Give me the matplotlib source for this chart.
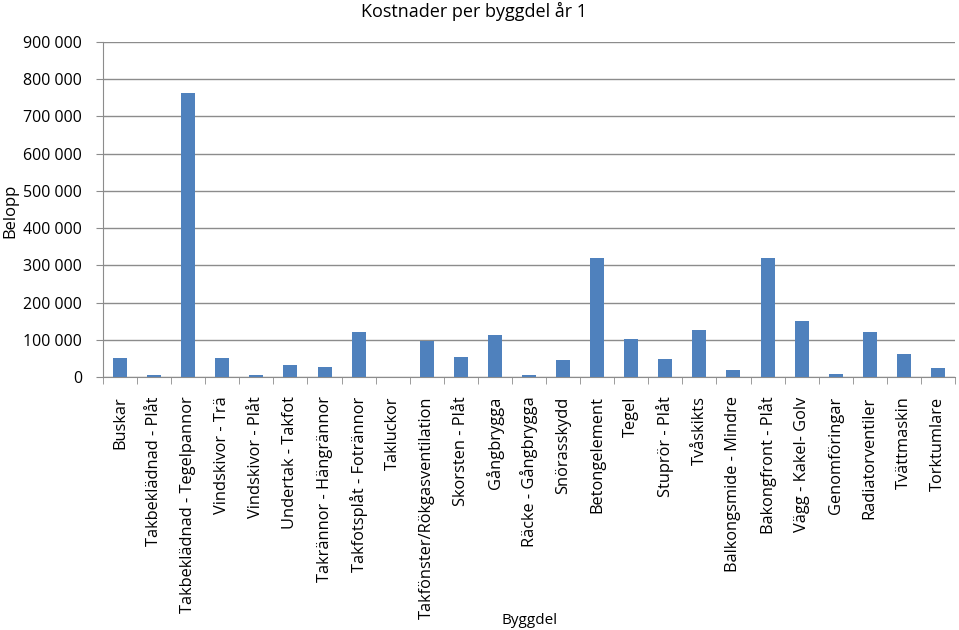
import matplotlib.pyplot as plt
import numpy as np
from matplotlib.ticker import FuncFormatter

plt.rcParams['font.family'] = ['Open Sans', 'DejaVu Sans']

byggdelar = ["Buskar", "Takbeklädnad - Plåt", "Takbeklädnad - Tegelpannor",
             "Vindskivor - Trä", "Vindskivor - Plåt", "Undertak - Takfot",
             "Takrännor - Hängrännor", "Takfotsplåt - Fotrännor", "Takluckor",
             "Takfönster/Rökgasventilation", "Skorsten - Plåt", "Gångbrygga",
             "Räcke - Gångbrygga", "Snörasskydd", "Betongelement", "Tegel",
             "Stuprör - Plåt", "Tvåskikts", "Balkongsmide - Mindre",
             "Bakongfront - Plåt", "Vägg - Kakel- Golv", "Genomföringar",
             "Radiatorventiler", "Tvättmaskin", "Torktumlare"]
belopp = [50000, 5000, 763000, 50000, 5000, 32000, 28000, 120000, 1000,
          97000, 55000, 112000, 5000, 46000, 320000, 102000, 48000, 125000,
          19000, 320000, 150000, 9000, 120000, 62000, 25000]

fig = plt.figure(figsize=(9.59, 6.3), dpi=100)
ax = fig.add_axes([103 / 959, 1 - 377 / 630, 852 / 959, 335 / 630])

x = np.arange(len(byggdelar))
ax.bar(x, belopp, width=0.41, color='#4F81BD', zorder=3)

ax.set_xlim(-0.5, len(byggdelar) - 0.5)
ax.set_ylim(0, 900000)
ax.set_yticks(np.arange(0, 900001, 100000))
ax.yaxis.set_major_formatter(FuncFormatter(lambda v, p: f"{int(v):,}".replace(",", " ")))
ax.yaxis.grid(True, color='#8c8c8c', linewidth=1, zorder=0)

ax.set_xticks(x)
ax.set_xticklabels(byggdelar, rotation=90, fontsize=11.8)
ax.set_xticks(np.arange(-0.5, len(byggdelar)), minor=True)
ax.tick_params(axis='x', which='major', length=0, pad=14)
ax.tick_params(axis='x', which='minor', length=5, color='#8c8c8c', direction='out')
ax.tick_params(axis='y', length=5, color='#8c8c8c', labelsize=11.5, pad=10)

for s in ['top', 'right']:
    ax.spines[s].set_visible(False)
for s in ['left', 'bottom']:
    ax.spines[s].set_color('#8c8c8c')

fig.text(474 / 959, 1 - 11 / 630, "Kostnader per byggdel år 1", ha='center', va='center', fontsize=13)
fig.text(2 / 959, 1 - 211 / 630, "Belopp", rotation=90, va='center', ha='left', fontsize=12)
fig.text(530 / 959, 1 - 620 / 630, "Byggdel", ha='center', va='center', fontsize=11)

plt.savefig("out.png", dpi=100)
